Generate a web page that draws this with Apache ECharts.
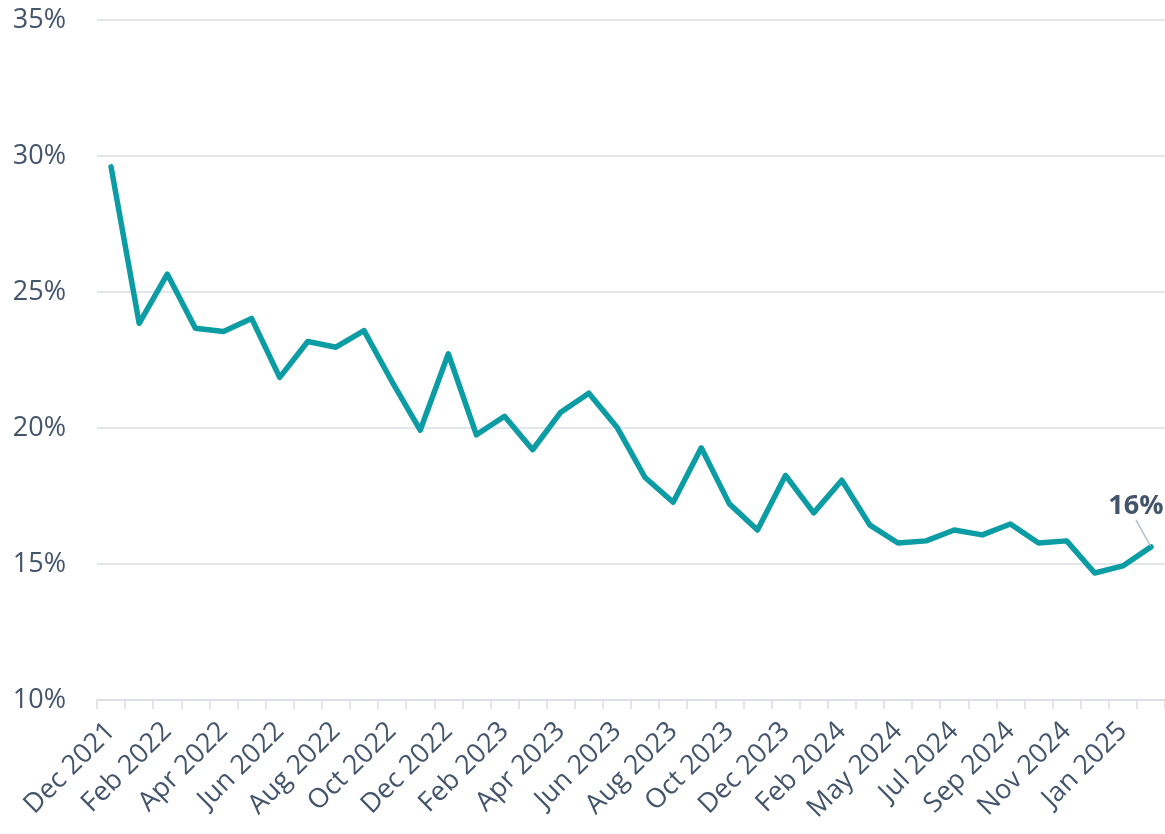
<!DOCTYPE html>
<html>
<head>
<meta charset="utf-8">
<script src="https://cdn.jsdelivr.net/npm/echarts@6/dist/echarts.min.js"></script>
<style>
  html, body { margin: 0; padding: 0; background: #fff; }
  #chart { width: 1165px; height: 834px; }
</style>
</head>
<body>
<div id="chart"></div>
<script>
const categories = [
  'Dec 2021', 'Jan 2022', 'Feb 2022', 'Mar 2022', 'Apr 2022', 'May 2022', 'Jun 2022',
  'Jul 2022', 'Aug 2022', 'Sep 2022', 'Oct 2022', 'Nov 2022', 'Dec 2022',
  'Jan 2023', 'Feb 2023', 'Mar 2023', 'Apr 2023', 'May 2023', 'Jun 2023',
  'Jul 2023', 'Aug 2023', 'Sep 2023', 'Oct 2023', 'Nov 2023', 'Dec 2023',
  'Jan 2024', 'Feb 2024', 'Mar 2024', 'May 2024', 'Jun 2024', 'Jul 2024',
  'Aug 2024', 'Sep 2024', 'Oct 2024', 'Nov 2024', 'Dec 2024', 'Jan 2025', 'Feb 2025'
];
const shareValues = [
  29.6, 23.85, 25.66, 23.67, 23.55, 24.03, 21.86, 23.18, 22.97, 23.58,
  21.7, 19.92, 22.73, 19.75, 20.43, 19.2, 20.58, 21.28, 20.03, 18.18,
  17.27, 19.27, 17.21, 16.25, 18.26, 16.88, 18.08, 16.43, 15.77, 15.85,
  16.25, 16.07, 16.47, 15.77, 15.85, 14.67, 14.93, 15.63
];
const yTicks = { min: 10, max: 35, step: 5 };

const textColor = '#44546A';
const gridColor = '#D9DEE6';
const lineColor = '#0C9CA4';
const fontFamily = "'Open Sans', sans-serif";
const lastIndex = shareValues.length - 1;

const seriesData = shareValues.map((v, i) => {
  if (i !== lastIndex) return v;
  return {
    value: v,
    label: {
      show: true,
      position: 'top',
      formatter: p => Math.round(p.value) + '%',
      color: textColor,
      fontWeight: 'bold',
      fontSize: 27,
      fontFamily: fontFamily
    }
  };
});

const chart = echarts.init(document.getElementById('chart'));
chart.setOption({
  animation: false,
  grid: { left: 97, right: 0, top: 20, bottom: 134, containLabel: false, outerBoundsMode: 'none' },
  xAxis: {
    type: 'category',
    data: categories,
    boundaryGap: true,
    axisLine: { show: true, lineStyle: { color: gridColor, width: 1.5 } },
    axisTick: { show: true, interval: 0, length: 9, lineStyle: { color: gridColor, width: 1.5 } },
    axisLabel: {
      interval: 1,
      rotate: 45,
      margin: 27,
      color: textColor,
      fontSize: 27,
      fontFamily: fontFamily
    },
    splitLine: { show: false }
  },
  yAxis: {
    type: 'value',
    min: yTicks.min,
    max: yTicks.max,
    interval: yTicks.step,
    axisLine: { show: false },
    axisTick: { show: false },
    axisLabel: {
      formatter: '{value}%',
      margin: 31,
      color: textColor,
      fontSize: 27,
      fontFamily: fontFamily
    },
    splitLine: { lineStyle: { color: gridColor, width: 1.5 } }
  },
  series: [{
    type: 'line',
    data: seriesData,
    symbol: 'circle',
    symbolSize: 2,
    showSymbol: true,
    itemStyle: { color: lineColor },
    lineStyle: { color: lineColor, width: 5.5, join: 'round', cap: 'round' },
    labelLine: { show: true, lineStyle: { color: '#B4BCC8', width: 1.5 } },
    labelLayout: p => p.dataIndex === lastIndex ? { dx: -15, dy: -21 } : {}
  }]
});
</script>
</body>
</html>
